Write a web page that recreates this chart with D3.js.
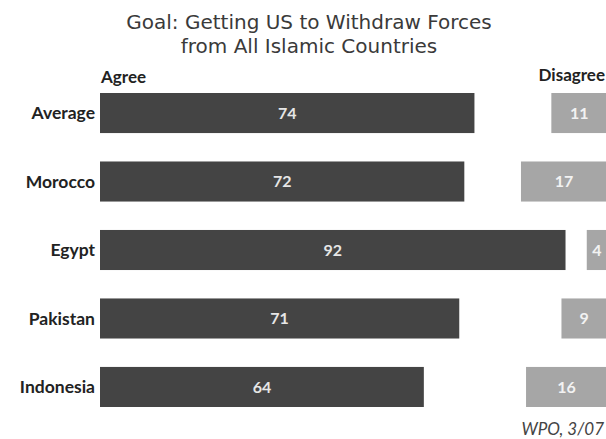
<!DOCTYPE html>
<html>
<head>
<meta charset="utf-8">
<script src="https://cdn.jsdelivr.net/npm/d3@7"></script>
<style>
  body { margin: 0; background: #fff; }
  svg { display: block; }
</style>
</head>
<body>
<div id="chart"></div>
<script>
const countries = ["Average", "Morocco", "Egypt", "Pakistan", "Indonesia"];
const agree = [74, 72, 92, 71, 64];
const disagree = [11, 17, 4, 9, 16];
const titleLines = ["Goal: Getting US to Withdraw Forces", "from All Islamic Countries"];
const source = "WPO, 3/07";

const width = 606, height = 439;
const font = "Lato, 'Open Sans', sans-serif";

let svg = d3.select("#chart").append("svg")
    .attr("width", width).attr("height", height);

// scales
let y = d3.scaleBand().domain(countries).range([93, 407])
    .paddingInner(0.415).paddingOuter(0);
let xA = d3.scaleLinear().domain([0, 100]).range([100, 606]);
// disagree bars grow leftwards from the right edge
let xD = d3.scaleLinear().domain([0, 100]).range([607, 101]);

let rows = countries.map(function(c, i) {
    return {name: c, agree: agree[i], disagree: disagree[i]};
});

// title (tight leading like the original)
svg.append("g").selectAll("text").data(titleLines).enter().append("text")
    .attr("x", 309).attr("y", function(d, i) { return 29 + i * 24; })
    .attr("text-anchor", "middle")
    .style("font-family", "'DejaVu Sans', sans-serif").style("font-size", "20px")
    .style("fill", "#3a3a3a")
    .text(function(d) { return d; });

// column heads
svg.append("text").attr("x", xA(0) + 1).attr("y", 83)
    .style("font-family", font).style("font-size", "17px").style("font-weight", "bold")
    .style("fill", "#222").text("Agree");
svg.append("text").attr("x", 605).attr("y", 81).attr("text-anchor", "end")
    .style("font-family", font).style("font-size", "17px").style("font-weight", "bold")
    .style("fill", "#222").text("Disagree");

let row = svg.selectAll("g.row").data(rows).enter().append("g").attr("class", "row");

row.append("text")
    .attr("x", 95).attr("y", function(d) { return y(d.name) + y.bandwidth() / 2; })
    .attr("dy", "0.35em").attr("text-anchor", "end")
    .style("font-family", font).style("font-size", "17.5px").style("font-weight", "bold")
    .style("fill", "#222")
    .text(function(d) { return d.name; });

row.append("rect")
    .attr("x", xA(0)).attr("y", function(d) { return y(d.name); })
    .attr("width", function(d) { return xA(d.agree) - xA(0); })
    .attr("height", y.bandwidth())
    .style("fill", "#444");

row.append("text")
    .attr("x", function(d) { return (xA(0) + xA(d.agree)) / 2; })
    .attr("y", function(d) { return y(d.name) + y.bandwidth() / 2; })
    .attr("dy", "0.35em").attr("text-anchor", "middle")
    .style("font-family", font).style("font-size", "16px").style("font-weight", "bold")
    .style("fill", "#e6e6e6")
    .text(function(d) { return d.agree; });

row.append("rect")
    .attr("x", function(d) { return xD(d.disagree); })
    .attr("y", function(d) { return y(d.name); })
    .attr("width", function(d) { return xD(0) - xD(d.disagree); })
    .attr("height", y.bandwidth())
    .style("fill", "#a6a6a6");

row.append("text")
    .attr("x", function(d) { return (xD(0) + xD(d.disagree)) / 2; })
    .attr("y", function(d) { return y(d.name) + y.bandwidth() / 2; })
    .attr("dy", "0.35em").attr("text-anchor", "middle")
    .style("font-family", font).style("font-size", "16px").style("font-weight", "bold")
    .style("fill", "#f2f2f2")
    .text(function(d) { return d.disagree; });

// source note
svg.append("text").attr("x", 604).attr("y", 435).attr("text-anchor", "end")
    .style("font-family", font).style("font-size", "17px").style("font-style", "italic")
    .style("fill", "#444").text(source);
</script>
</body>
</html>
